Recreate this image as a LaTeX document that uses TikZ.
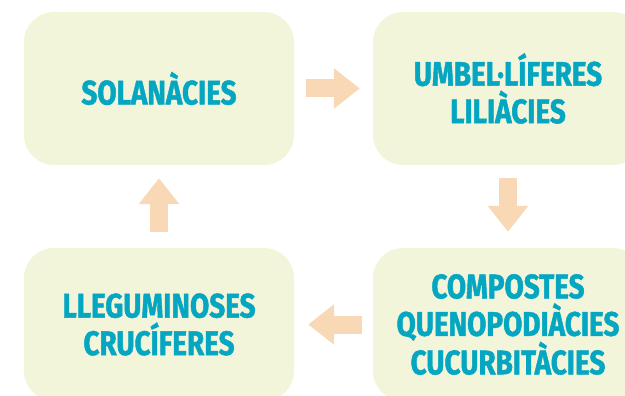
\documentclass[tikz,border=0pt]{standalone}
\usepackage{fontspec}
\setmainfont{Fira Sans}[FakeStretch=0.82, BoldFeatures={FakeBold=1.3}]
\usetikzlibrary{arrows.meta}

\definecolor{boxfill}{HTML}{F2F5DA}
\definecolor{tealtext}{HTML}{04A6C1}
\definecolor{peach}{HTML}{F9D8B5}

\begin{document}
\begin{tikzpicture}[x=1pt,y=-1pt]
% Styles
\tikzset{
    famblock/.style={fill=boxfill, rounded corners=30pt, minimum width=270pt,
        minimum height=153pt, align=center, text=tealtext,
        font=\fontsize{34}{37.5}\selectfont\bfseries},
    rotarrow/.style={peach, line width=18pt, -{Triangle[width=39pt,length=26pt]}}
}
\clip (0,0) rectangle (625,396);
\useasboundingbox (0,0) rectangle (625,396);
% Blocks
\node[famblock] (SOL) at (159,88.5){SOLANÀCIES};
\node[famblock] (UMB) at (508,88.5){UMBEL·LÍFERES\\LILIÀCIES};
\node[famblock] (COM) at (508,324.5){COMPOSTES\\QUENOPODIÀCIES\\CUCURBITÀCIES};
\node[famblock] (LLE) at (159,324.5){LLEGUMINOSES\\CRUCÍFERES};
% Rotation
\draw[rotarrow, shorten <=12pt, shorten >=13pt] (SOL) -- (UMB);
\draw[rotarrow, shorten <=13pt, shorten >=16pt] (UMB) -- (COM);
\draw[rotarrow, shorten <=11pt, shorten >=14pt] (COM) -- (LLE);
\draw[rotarrow, shorten <=16pt, shorten >=13pt] (LLE) -- (SOL);
\end{tikzpicture}
\end{document}
